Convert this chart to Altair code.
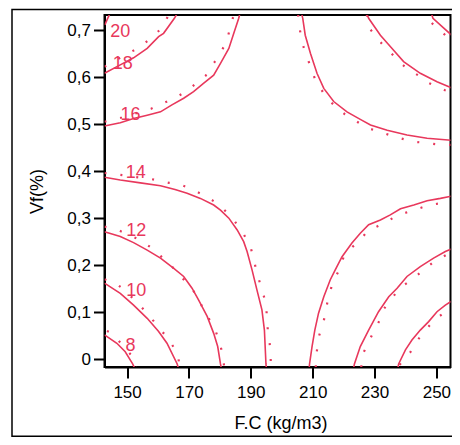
import altair as alt
import pandas as pd

RED = "#E8385C"

# ---- contour curves (F.C kg/m3, Vf %) : solid = model, dotted = second series ----
S8_X = [142.7, 146.7, 149.4, 151.8, 152.3]
S8_Y = [0.052, 0.034, 0.016, -0.010, -0.017]
D8_X = [143.5, 145.6, 148.4, 152.4, 152.8]
D8_Y = [0.060, 0.054, 0.030, 0.001, -0.017]

S10_X = [142.7, 147.8, 152.1, 156.5, 160.2, 162.9, 166.2, 166.5]
S10_Y = [0.162, 0.140, 0.115, 0.087, 0.059, 0.034, -0.010, -0.017]
D10_X = [142.7, 145.9, 148.9, 154.5, 158.6, 163.6, 166.4, 167.0]
D10_Y = [0.170, 0.163, 0.149, 0.112, 0.081, 0.041, 0.011, -0.017]

S12_X = [142.7, 147.8, 152.1, 156.5, 160.8, 165.1, 168.3, 171.0, 173.1, 175.9, 178.0, 179.3, 180.2, 180.4]
S12_Y = [0.271, 0.261, 0.248, 0.232, 0.215, 0.193, 0.176, 0.151, 0.126, 0.091, 0.055, 0.027, -0.010, -0.017]
D12_X = [142.7, 146.7, 154.1, 158.1, 160.8, 163.6, 166.5, 170.2, 173.1, 174.1, 176.9, 178.8, 179.8, 181.0, 181.4]
D12_Y = [0.282, 0.276, 0.254, 0.236, 0.220, 0.203, 0.184, 0.154, 0.133, 0.114, 0.081, 0.057, 0.037, 0.009, -0.017]

S14L_X = [142.7, 147.8, 154.3, 160.8, 165.5, 169.4, 173.7, 178.0, 180.2, 182.9, 185.6, 187.7, 188.8, 190.4, 192.0, 193.6, 194.4, 194.9, 195.0]
S14L_Y = [0.387, 0.381, 0.375, 0.369, 0.361, 0.353, 0.342, 0.328, 0.317, 0.300, 0.275, 0.250, 0.229, 0.190, 0.147, 0.105, 0.062, -0.010, -0.017]
D14L_X = [142.7, 146.7, 157.9, 163.6, 167.0, 169.8, 174.8, 178.3, 181.0, 183.9, 187.7, 189.9, 190.6, 191.7, 193.3, 194.9, 195.3, 195.6, 196.1, 196.4, 196.5]
D14L_Y = [0.396, 0.393, 0.383, 0.375, 0.372, 0.365, 0.349, 0.335, 0.320, 0.302, 0.266, 0.239, 0.222, 0.191, 0.154, 0.119, 0.082, 0.052, 0.034, 0.009, -0.017]

S16L_X = [142.7, 147.8, 152.1, 156.5, 160.8, 164.5, 168.3, 171.5, 174.8, 178.0, 180.2, 182.9, 184.5, 186.1, 186.4]
S16L_Y = [0.496, 0.503, 0.512, 0.519, 0.526, 0.541, 0.555, 0.569, 0.587, 0.604, 0.629, 0.661, 0.693, 0.725, 0.733]
D16L_X = [142.7, 148.3, 157.9, 165.3, 169.2, 175.4, 178.2, 182.0, 183.4, 184.5]
D16L_Y = [0.505, 0.514, 0.533, 0.555, 0.570, 0.603, 0.631, 0.672, 0.706, 0.733]

S18L_X = [142.7, 147.8, 152.1, 156.5, 160.2, 161.8, 165.3, 166.0]
S18L_Y = [0.608, 0.626, 0.641, 0.661, 0.686, 0.693, 0.725, 0.733]
D18L_X = [142.7, 148.0, 154.5, 158.0, 160.2, 161.4, 163.5]
D18L_Y = [0.622, 0.642, 0.665, 0.685, 0.698, 0.706, 0.733]

S20L_X = [142.8, 144.3]
S20L_Y = [0.711, 0.733]

S14R_X = [206.5, 206.8, 207.6, 209.3, 211.4, 213.6, 216.8, 221.1, 225.4, 228.7, 234.1, 240.5, 247.0, 256.1, 257.5]
S14R_Y = [0.733, 0.725, 0.689, 0.650, 0.608, 0.576, 0.548, 0.526, 0.510, 0.498, 0.487, 0.477, 0.470, 0.465, 0.464]
D14R_X = [205.3, 205.7, 206.8, 208.6, 210.8, 213.6, 217.4, 220.4, 224.9, 227.6, 231.0, 236.6, 242.2, 247.8, 251.3, 253.9, 257.5]
D14R_Y = [0.733, 0.706, 0.669, 0.635, 0.595, 0.565, 0.536, 0.521, 0.503, 0.492, 0.485, 0.473, 0.463, 0.459, 0.456, 0.456, 0.455]

S12R_X = [227.6, 228.1, 231.9, 235.1, 239.4, 244.8, 250.2, 256.1, 257.5]
S12R_Y = [0.733, 0.725, 0.689, 0.665, 0.633, 0.608, 0.590, 0.574, 0.571]
D12R_X = [227.5, 228.2, 232.6, 235.4, 238.1, 241.7, 244.6, 247.7, 252.8, 255.7, 257.5]
D12R_Y = [0.733, 0.705, 0.669, 0.651, 0.631, 0.613, 0.602, 0.587, 0.572, 0.565, 0.562]

S10R_X = [248.5, 248.9, 252.4, 256.1, 257.5]
S10R_Y = [0.733, 0.725, 0.704, 0.682, 0.674]
D10R_X = [248.5, 249.5, 252.9, 255.7, 257.5]
D10R_Y = [0.715, 0.709, 0.689, 0.675, 0.665]

S16R_X = [208.9, 209.0, 209.8, 210.7, 211.9, 213.6, 215.7, 217.3, 219.5, 222.7, 225.4, 228.1, 231.9, 235.1, 238.4, 242.7, 247.0, 251.3, 256.4, 257.5]
S16R_Y = [-0.017, -0.010, 0.027, 0.062, 0.098, 0.133, 0.169, 0.190, 0.218, 0.247, 0.268, 0.286, 0.296, 0.307, 0.320, 0.328, 0.337, 0.342, 0.349, 0.350]
D16R_X = [211.0, 211.2, 211.9, 213.6, 214.7, 216.4, 219.2, 220.0, 222.4, 225.4, 227.8, 231.0, 236.2, 238.9, 242.2, 247.8, 253.5, 257.5]
D16R_Y = [-0.017, 0.009, 0.046, 0.082, 0.119, 0.162, 0.198, 0.218, 0.236, 0.254, 0.273, 0.283, 0.301, 0.309, 0.316, 0.328, 0.334, 0.338]

S18R_X = [223.3, 223.5, 225.4, 228.1, 231.3, 234.6, 237.3, 240.5, 244.8, 249.1, 252.9, 256.4, 257.5]
S18R_Y = [-0.017, -0.010, 0.027, 0.062, 0.101, 0.133, 0.151, 0.176, 0.197, 0.215, 0.229, 0.239, 0.242]
D18R_X = [225.7, 226.0, 228.4, 229.9, 231.6, 232.4, 234.3, 237.1, 239.8, 242.8, 246.1, 248.9, 253.5, 257.5]
D18R_Y = [-0.017, 0.008, 0.041, 0.061, 0.082, 0.101, 0.119, 0.142, 0.159, 0.173, 0.191, 0.206, 0.223, 0.235]

S20R_X = [237.6, 237.8, 240.0, 242.1, 244.8, 247.5, 250.2, 252.9, 256.4, 257.5]
S20R_Y = [-0.017, -0.010, 0.020, 0.041, 0.062, 0.080, 0.101, 0.115, 0.130, 0.134]
D20R_X = [238.1, 241.6, 242.7, 244.8, 247.7, 250.4, 253.5, 257.5]
D20R_Y = [-0.012, 0.015, 0.030, 0.048, 0.071, 0.089, 0.103, 0.118]

# contour labels
LABEL_TEXT = ["20", "18", "16", "14", "12", "10", "8"]
LABEL_X = [147.8, 148.6, 151.1, 152.8, 153.0, 153.0, 151.1]
LABEL_Y = [0.695, 0.628, 0.519, 0.395, 0.273, 0.145, 0.028]

X_TICKS = [150, 160, 170, 180, 190, 200, 210, 220, 230, 240, 250]
Y_TICKS = [0, 0.1, 0.2, 0.3, 0.4, 0.5, 0.6, 0.7]

curves = [
    ("8", "solid", S8_X, S8_Y), ("8", "dotted", D8_X, D8_Y),
    ("10", "solid", S10_X, S10_Y), ("10", "dotted", D10_X, D10_Y),
    ("12", "solid", S12_X, S12_Y), ("12", "dotted", D12_X, D12_Y),
    ("14L", "solid", S14L_X, S14L_Y), ("14L", "dotted", D14L_X, D14L_Y),
    ("16L", "solid", S16L_X, S16L_Y), ("16L", "dotted", D16L_X, D16L_Y),
    ("18L", "solid", S18L_X, S18L_Y), ("18L", "dotted", D18L_X, D18L_Y),
    ("20L", "solid", S20L_X, S20L_Y),
    ("14R", "solid", S14R_X, S14R_Y), ("14R", "dotted", D14R_X, D14R_Y),
    ("12R", "solid", S12R_X, S12R_Y), ("12R", "dotted", D12R_X, D12R_Y),
    ("10R", "solid", S10R_X, S10R_Y), ("10R", "dotted", D10R_X, D10R_Y),
    ("16R", "solid", S16R_X, S16R_Y), ("16R", "dotted", D16R_X, D16R_Y),
    ("18R", "solid", S18R_X, S18R_Y), ("18R", "dotted", D18R_X, D18R_Y),
    ("20R", "solid", S20R_X, S20R_Y), ("20R", "dotted", D20R_X, D20R_Y),
]
rows = []
for cid, kind, xs, ys in curves:
    for i, (x, y) in enumerate(zip(xs, ys)):
        rows.append({"curve": cid + "_" + kind, "kind": kind, "order": i, "fc": x, "vf": y})
df = pd.DataFrame(rows)
lab = pd.DataFrame({"t": LABEL_TEXT, "fc": LABEL_X, "vf": LABEL_Y})

FONT = "Liberation Sans"
W = 346.0
H = 352.0
xscale = alt.Scale(domain=[142.7, 142.7 + W / 3.093], nice=False, zero=False)
yscale = alt.Scale(domain=[-0.0165, 0.732], nice=False, zero=False)

xaxis = alt.Axis(
    values=X_TICKS, title="F.C (kg/m3)",
    labelExpr="datum.value % 20 == 10 ? datum.label : ''",
    grid=False, tickSize=11, tickWidth=2, tickColor="black",
    domainColor="black", domainWidth=2,
    labelFontSize=17, labelFont=FONT, labelColor="black", labelPadding=6,
    titleFontSize=18, titleFont=FONT, titleFontWeight="normal", titleColor="black",
    titleX=176.0, titleY=56, titleBaseline="middle", titleAlign="center",
)
yaxis = alt.Axis(
    values=Y_TICKS, title="Vf(%)",
    labelExpr="datum.value == 0 ? '0' : replace(format(datum.value, '.1f'), '.', ',')",
    grid=False, tickSize=11, tickWidth=2, tickColor="black",
    domainColor="black", domainWidth=2,
    labelFontSize=17, labelFont=FONT, labelColor="black", labelPadding=3,
    titleFontSize=18, titleFont=FONT, titleFontWeight="normal", titleColor="black",
    titleX=-67, titleY=176, titleBaseline="middle", titleAlign="center", titleAngle=270,
)

# outer figure frame and plot top border (decoration)
frame = alt.Chart(pd.DataFrame({"a": [0]})).mark_rect(
    fill="white", fillOpacity=0, stroke="black", strokeWidth=1.5, clip=False
).encode(x=alt.value(-92.5), x2=alt.value(370), y=alt.value(-5.5), y2=alt.value(421.2))
top_border = alt.Chart(pd.DataFrame({"a": [0]})).mark_rule(
    color="black", strokeWidth=2
).encode(x=alt.value(0), x2=alt.value(W), y=alt.value(0))

solid = alt.Chart(df).transform_filter("datum.kind == 'solid'").mark_line(
    color=RED, strokeWidth=1.6, clip=True
).encode(
    x=alt.X("fc:Q", scale=xscale, axis=xaxis),
    y=alt.Y("vf:Q", scale=yscale, axis=yaxis),
    detail="curve:N", order="order:Q",
)
dotted = alt.Chart(df).transform_filter("datum.kind == 'dotted'").mark_line(
    color=RED, strokeWidth=2.2, strokeDash=[2, 14], clip=True
).encode(
    x=alt.X("fc:Q", scale=xscale),
    y=alt.Y("vf:Q", scale=yscale),
    detail="curve:N", order="order:Q",
)
labels = alt.Chart(lab).mark_text(
    color=RED, fontSize=18, font=FONT, align="center", baseline="middle"
).encode(
    x=alt.X("fc:Q", scale=xscale),
    y=alt.Y("vf:Q", scale=yscale),
    text="t:N",
)

chart = alt.layer(frame, top_border, solid, dotted, labels).properties(
    width=W, height=H,
    autosize=alt.AutoSizeParams(type="none"),
    padding={"left": 96.5, "top": 7, "right": 1.5, "bottom": 70},
).configure_view(stroke="black", strokeWidth=2)

chart.save("out.html", embed_options={"renderer": "svg", "actions": False})
